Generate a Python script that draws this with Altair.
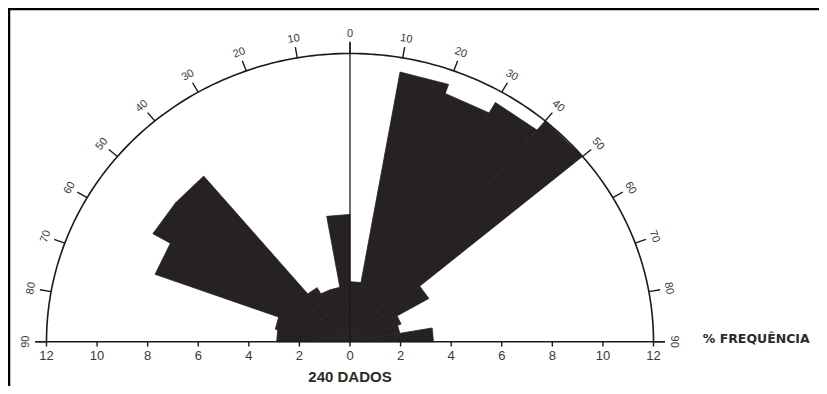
import altair as alt
import pandas as pd
import numpy as np

# ---------------- data ----------------
bin_start = [-90, -80, -70, -60, -50, -40, -30, -20, -10,
             0, 10, 20, 30, 40, 50, 60, 70, 80]           # azimuth of bin start (deg, west side negative)
freq = [2.9, 3.0, 8.2, 9.0, 9.0, 2.6, 2.3, 2.3, 5.3,
        2.5, 11.4, 11.0, 11.5, 12.0, 3.6, 2.15, 2.0, 3.3]   # % frequency
bin_width = 10
azimuth_ticks = [-90, -80, -70, -60, -50, -40, -30, -20, -10, 0,
                 10, 20, 30, 40, 50, 60, 70, 80, 90]
azimuth_labels = ["90", "80", "70", "60", "50", "40", "30", "20", "10", "0",
                  "10", "20", "30", "40", "50", "60", "70", "80", "90"]
freq_ticks = [-12, -10, -8, -6, -4, -2, 0, 2, 4, 6, 8, 10, 12]
freq_labels = ["12", "10", "8", "6", "4", "2", "0", "2", "4", "6", "8", "10", "12"]
r_max = 12
count_text = "240 DADOS"
axis_text = "% FREQUÊNCIA"

# ---------------- layout / style ----------------
W, H = 811, 378
X_DOM = [-13.522, 18.544]
Y_DOM = [-1.844, 13.894]
PETAL = "#262223"
INK = "#1a1a1a"
TXT = "#3a3a3a"
FONT = "Liberation Sans"

xs = alt.Scale(domain=X_DOM, nice=False, zero=False)
ys = alt.Scale(domain=Y_DOM, nice=False, zero=False)
X = lambda f: alt.X(f, type="quantitative", scale=xs, axis=None)
Y = lambda f: alt.Y(f, type="quantitative", scale=ys, axis=None)

# petals: wedge polygons built from the bins
rows = []
for b, (a0, r) in enumerate(zip(bin_start, freq)):
    a1 = a0 + bin_width
    pts = [(0.0, 0.0),
           (r * np.sin(np.radians(a0)), r * np.cos(np.radians(a0))),
           (r * np.sin(np.radians(a1)), r * np.cos(np.radians(a1))),
           (0.0, 0.0)]
    for k, (px, py) in enumerate(pts):
        rows.append({"bin": b, "k": k, "x": px, "y": py})
petals = pd.DataFrame(rows)

# outer semicircle
arc_deg = np.arange(-90, 91, 1)
arc = pd.DataFrame({"a": arc_deg,
                    "x": r_max * np.sin(np.radians(arc_deg)),
                    "y": r_max * np.cos(np.radians(arc_deg))})

# azimuth ticks and labels
ta = np.radians(azimuth_ticks)
ticks = pd.DataFrame({
    "x": r_max * np.sin(ta), "y": r_max * np.cos(ta),
    "x2": (r_max + 0.45) * np.sin(ta), "y2": (r_max + 0.45) * np.cos(ta),
})
lab_r = r_max + 0.8
alabels = pd.DataFrame({
    "x": lab_r * np.sin(ta), "y": lab_r * np.cos(ta),
    "t": azimuth_labels,
    "rot": [(a + 360) % 360 for a in azimuth_ticks],
})

# frequency axis
faxis = pd.DataFrame({"x": [-12.45], "x2": [12.45], "y": [0.0]})
fticks = pd.DataFrame({"x": freq_ticks, "y": [0.0] * len(freq_ticks),
                       "y2": [-0.2] * len(freq_ticks), "t": freq_labels})
north = pd.DataFrame({"x": [0.0], "y": [0.0], "y2": [r_max + 0.5]})
notes = pd.DataFrame({"x": [0.0, 13.95], "y": [-1.66, 0.12],
                      "t": [count_text, axis_text]})

petal_layer = alt.Chart(petals).mark_line(
    fill=PETAL, stroke=PETAL, strokeWidth=0.8, strokeJoin="miter"
).encode(x=X("x"), y=Y("y"), detail="bin:N", order="k:Q")

arc_layer = alt.Chart(arc).mark_line(color=INK, strokeWidth=1.6).encode(
    x=X("x"), y=Y("y"), order="a:Q")

tick_layer = alt.Chart(ticks).mark_rule(color=INK, strokeWidth=1.4).encode(
    x=X("x"), y=Y("y"), x2="x2:Q", y2="y2:Q")

alab_layer = alt.Chart(alabels).mark_text(
    font=FONT, fontSize=11, color=TXT, align="center", baseline="middle"
).encode(x=X("x"), y=Y("y"), text="t:N", angle=alt.Angle("rot:Q", scale=None))

north_layer = alt.Chart(north).mark_rule(color=INK, strokeWidth=1.3).encode(
    x=X("x"), y=Y("y"), y2="y2:Q")

faxis_layer = alt.Chart(faxis).mark_rule(color=INK, strokeWidth=1.6).encode(
    x=X("x"), x2="x2:Q", y=Y("y"))

ftick_layer = alt.Chart(fticks).mark_rule(color=INK, strokeWidth=1.4).encode(
    x=X("x"), y=Y("y"), y2="y2:Q")

flab_layer = alt.Chart(fticks).mark_text(
    font=FONT, fontSize=13, color=TXT, align="center", baseline="top", dy=3
).encode(x=X("x"), y=Y("y2"), text="t:N")

count_layer = alt.Chart(notes.iloc[[0]]).mark_text(
    font=FONT, fontSize=15, fontWeight="bold", color="#2a2a2a",
    align="center", baseline="alphabetic"
).encode(x=X("x"), y=Y("y"), text="t:N")

axis_title_layer = alt.Chart(notes.iloc[[1]]).mark_text(
    font="DejaVu Sans", fontSize=12.5, fontWeight="bold", color="#2a2a2a",
    align="left", baseline="middle"
).encode(x=X("x"), y=Y("y"), text="t:N")

frame_top = alt.Chart(pd.DataFrame({"f": [0]})).mark_rule(
    color="#000000", strokeWidth=2.5
).encode(x=alt.value(0), x2=alt.value(W), y=alt.value(1))
frame_left = alt.Chart(pd.DataFrame({"f": [0]})).mark_rule(
    color="#000000", strokeWidth=2.5
).encode(x=alt.value(1), y=alt.value(0), y2=alt.value(H))

chart = alt.layer(
    petal_layer, arc_layer, tick_layer, alab_layer, north_layer,
    faxis_layer, ftick_layer, flab_layer, count_layer, axis_title_layer,
    frame_top, frame_left,
).properties(
    width=W, height=H, padding=0,
    autosize=alt.AutoSizeParams(type="none"),
    background="white",
).configure_view(stroke=None)

chart.save("out.html", embed_options={"renderer": "svg", "actions": False})
